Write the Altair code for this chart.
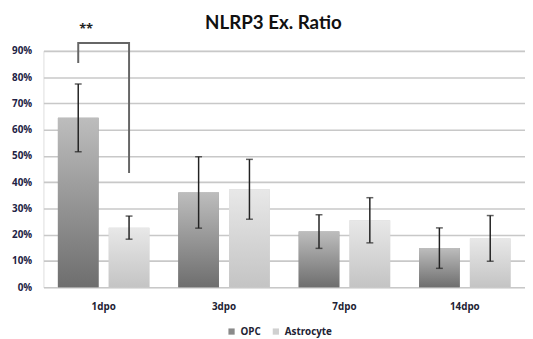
import altair as alt
import pandas as pd

timepoints = ["1dpo", "3dpo", "7dpo", "14dpo"]
series = ["OPC", "Astrocyte"]
opc_mean = [0.645, 0.361, 0.212, 0.149]
opc_err = [0.129, 0.136, 0.064, 0.077]
ast_mean = [0.227, 0.373, 0.255, 0.186]
ast_err = [0.044, 0.114, 0.086, 0.087]
y_ticks = [0, 0.1, 0.2, 0.3, 0.4, 0.5, 0.6, 0.7, 0.8, 0.9]

# significance bracket (1dpo OPC vs Astrocyte)
bracket_series = ["OPC", "OPC", "Astrocyte", "Astrocyte"]
bracket_y = [0.854, 0.93, 0.93, 0.435]
star_label = "**"
star_y = 0.985

rows = []
for i, t in enumerate(timepoints):
    rows.append({"time": t, "series": "OPC", "mean": opc_mean[i],
                 "lo": opc_mean[i] - opc_err[i], "hi": opc_mean[i] + opc_err[i]})
    rows.append({"time": t, "series": "Astrocyte", "mean": ast_mean[i],
                 "lo": ast_mean[i] - ast_err[i], "hi": ast_mean[i] + ast_err[i]})
df = pd.DataFrame(rows)

br = pd.DataFrame({"time": ["1dpo"] * 4, "series": bracket_series,
                   "y": bracket_y, "order": list(range(4))})
star = pd.DataFrame({"time": ["1dpo"], "series": ["OPC"], "y": [star_y], "label": [star_label]})

xscale = alt.Scale(domain=timepoints, paddingInner=0.24, paddingOuter=0.12)
xoscale = alt.Scale(domain=series, paddingInner=0.2, paddingOuter=0)
yscale = alt.Scale(domain=[0, 0.9], nice=False)

xaxis = alt.Axis(labelAngle=0, ticks=False, domain=False, labelPadding=15,
                 labelFont="Open Sans", labelFontSize=10, labelFontWeight="bold",
                 labelColor="#222233")
yaxis = alt.Axis(format=".0%", values=y_ticks,
                 labelOverlap=False, ticks=False, domain=False, labelPadding=12,
                 labelFont="Open Sans", labelFontSize=10, labelFontWeight="bold",
                 labelColor="#222244", gridColor="#c8c8c8", gridWidth=1.6)


def X():
    return alt.X("time:N", sort=timepoints, scale=xscale, title=None, axis=xaxis)


def XO():
    return alt.XOffset("series:N", sort=series, scale=xoscale)


def Y(field):
    return alt.Y(field, scale=yscale, title=None, axis=yaxis)


base = alt.Chart(df)

legend_bars = base.mark_bar().encode(
    x=X(), xOffset=XO(), y=Y("mean:Q"),
    color=alt.Color("series:N", sort=series,
                    scale=alt.Scale(domain=series, range=["#8a8a8a", "#d0d0d0"]),
                    legend=alt.Legend(orient="none", legendX=186, legendY=280,
                                      title=None, direction="horizontal",
                                      symbolType="square", symbolSize=40, symbolStrokeWidth=0,
                                      labelFont="Open Sans", labelFontSize=10,
                                      labelFontWeight="bold",
                                      labelColor="#222233", columnPadding=10)),
)

grad_opc = alt.Gradient(gradient="linear", x1=0, y1=1, x2=0, y2=0,
                        stops=[alt.GradientStop(color="#6e6e6e", offset=0),
                               alt.GradientStop(color="#bdbdbd", offset=1)])
grad_ast = alt.Gradient(gradient="linear", x1=0, y1=1, x2=0, y2=0,
                        stops=[alt.GradientStop(color="#c4c4c4", offset=0),
                               alt.GradientStop(color="#e8e8e8", offset=1)])

opc_bars = base.transform_filter(alt.datum.series == "OPC").mark_bar(color=grad_opc).encode(
    x=X(), xOffset=XO(), y=Y("mean:Q"))
ast_bars = base.transform_filter(alt.datum.series == "Astrocyte").mark_bar(color=grad_ast).encode(
    x=X(), xOffset=XO(), y=Y("mean:Q"))

err_rule = base.mark_rule(color="#222222", strokeWidth=1.5).encode(
    x=X(), xOffset=XO(), y=Y("lo:Q"), y2="hi:Q")
cap_lo = base.mark_tick(color="#222222", thickness=1.5, size=7).encode(
    x=X(), xOffset=XO(), y=Y("lo:Q"))
cap_hi = base.mark_tick(color="#222222", thickness=1.5, size=7).encode(
    x=X(), xOffset=XO(), y=Y("hi:Q"))

bracket = alt.Chart(br).mark_line(color="#666666", strokeWidth=2, strokeJoin="miter").encode(
    x=X(), xOffset=XO(), y=Y("y:Q"), order="order:Q")

stars = alt.Chart(star).mark_text(fontSize=13, fontWeight="bold", color="#222222",
                                  font="Open Sans", dx=8).encode(
    x=X(), xOffset=XO(), y=Y("y:Q"), text="label:N")

chart = alt.layer(legend_bars, opc_bars, ast_bars, err_rule, cap_lo, cap_hi, bracket, stars).properties(
    width=489, height=240,
    padding={"left": 36, "top": 41, "right": 0, "bottom": 50},
    autosize=alt.AutoSizeParams(type="none"),
    title=alt.TitleParams("NLRP3 Ex. Ratio", font="Lato", fontSize=19, fontWeight="bold",
                          color="#111111", anchor="middle", dx=-11, dy=24, offset=14),
).configure_view(stroke=None).configure(background="white")

chart.save("out.html", embed_options={"renderer": "svg", "actions": False})
